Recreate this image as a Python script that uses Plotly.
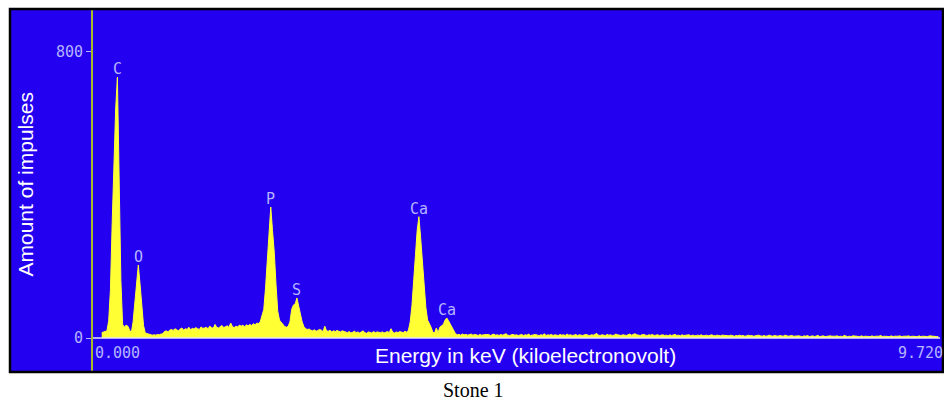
import plotly.graph_objects as go

# ---------------- data ----------------
CH_START = 0.10      # keV, first channel
CH_WIDTH = 0.02      # keV per channel
X_MAX = 9.72         # keV, full scale

COUNTS = [
    # 0.10 - 0.48
    15, 17, 18, 20, 48, 135, 320, 515, 640, 729, 430, 160, 38, 30, 36, 33, 22, 15, 45, 100,
    # 0.50 - 0.88
    165, 204, 150, 90, 35, 14, 12, 10, 9, 8, 9, 8, 10, 9, 11, 12, 18, 20, 17, 22,
    # 0.90 - 1.28
    24, 21, 26, 23, 20, 25, 28, 22, 26, 24, 30, 23, 27, 25, 29, 26, 24, 31, 27, 28,
    # 1.30 - 1.68
    30, 26, 33, 29, 27, 38, 30, 28, 32, 35, 29, 31, 34, 30, 42, 32, 29, 33, 31, 36,
    # 1.70 - 2.08
    33, 36, 31, 37, 34, 38, 35, 40, 37, 42, 40, 46, 60, 80, 140, 220, 290, 366, 300, 240,
    # 2.10 - 2.48
    150, 75, 50, 45, 38, 32, 30, 33, 45, 80, 92, 95, 112, 88, 65, 45, 32, 26, 24, 25,
    # 2.50 - 2.88
    22, 20, 23, 19, 21, 24, 22, 18, 33, 20, 19, 22, 17, 20, 18, 21, 19, 17, 20, 18,
    # 2.90 - 3.28
    17, 15, 18, 14, 16, 19, 15, 17, 14, 16, 20, 15, 13, 17, 16, 14, 18, 15, 17, 16,
    # 3.30 - 3.68
    15, 17, 14, 16, 18, 15, 26, 16, 14, 17, 15, 18, 16, 15, 19, 16, 22, 45, 90, 150,
    # 3.70 - 4.08
    230, 300, 339, 280, 220, 140, 85, 50, 42, 30, 16, 14, 28, 15, 30, 34, 38, 50, 56, 48,
    # 4.10 - 4.48
    40, 30, 20, 12, 9, 10, 8, 11, 9, 10, 8, 9, 11, 8, 10, 9, 7, 10, 8, 9,
    # 4.50 - 4.88
    9, 8, 10, 7, 9, 11, 8, 9, 7, 10, 8, 9, 12, 8, 7, 9, 10, 8, 9, 7,
    # 4.90 - 5.28
    8, 10, 7, 9, 8, 11, 7, 8, 9, 10, 8, 7, 9, 8, 12, 7, 9, 8, 10, 7,
    # 5.30 - 5.68
    9, 8, 7, 10, 8, 9, 7, 11, 8, 9, 7, 8, 10, 7, 9, 8, 7, 9, 10, 8,
    # 5.70 - 6.08
    7, 9, 8, 10, 13, 8, 7, 9, 8, 7, 10, 8, 9, 7, 8, 11, 9, 8, 7, 9,
    # 6.10 - 6.48
    8, 7, 9, 11, 8, 10, 12, 9, 8, 7, 9, 10, 8, 7, 9, 8, 10, 7, 8, 9,
    # 6.50 - 6.88
    7, 8, 9, 7, 8, 6, 9, 7, 8, 10, 7, 8, 6, 9, 7, 8, 7, 9, 6, 8,
    # 6.90 - 7.28
    7, 6, 8, 7, 9, 6, 7, 8, 6, 7, 9, 7, 6, 8, 7, 6, 8, 7, 6, 7,
    # 7.30 - 7.68
    6, 8, 7, 5, 7, 6, 8, 6, 7, 5, 6, 8, 6, 7, 5, 6, 7, 8, 6, 5,
    # 7.70 - 8.08
    7, 5, 6, 8, 6, 5, 7, 6, 5, 7, 6, 5, 8, 6, 5, 6, 7, 5, 6, 5,
    # 8.10 - 8.48
    6, 5, 4, 6, 5, 7, 4, 5, 6, 4, 5, 7, 4, 5, 6, 4, 5, 4, 6, 5,
    # 8.50 - 8.88
    4, 5, 6, 4, 5, 4, 7, 5, 4, 5, 4, 6, 5, 4, 5, 4, 6, 4, 5, 4,
    # 8.90 - 9.28
    5, 4, 6, 4, 5, 4, 5, 7, 4, 5, 4, 5, 4, 6, 4, 5, 4, 5, 6, 4,
    # 9.30 - 9.68
    5, 4, 5, 6, 4, 5, 4, 5, 4, 6, 4, 5, 4, 5, 4, 6, 5, 4, 5, 4,
    # 9.70
    4,
]
ENERGY = [round(CH_START + CH_WIDTH * i, 2) for i in range(len(COUNTS))]

PEAK_LABELS = ["C", "O", "P", "S", "Ca", "Ca"]
PEAK_ENERGY = [0.28, 0.52, 2.04, 2.34, 3.74, 4.06]
PEAK_COUNTS = [COUNTS[round((e - CH_START) / CH_WIDTH)] for e in PEAK_ENERGY]

Y_TICKS = [0, 800]
X_TICK_TEXT = ["0.000", "9.720"]
X_TITLE = "Energy in keV (kiloelectronovolt)"
Y_TITLE = "Amount of impulses"
CAPTION = "Stone 1"

# ---------------- styling / layout ----------------
W, H = 944, 404
ML, MR, MT, MB = 93, 4, 9, 32
PW, PH = W - ML - MR, H - MT - MB

BLUE = "#2400f0"
YELLOW = "#ffff33"
LAV = "#b4b4ff"
AXIS_GREEN = "#aabb2a"
MONO = "DejaVu Sans Mono"
SANS = "Liberation Sans, Arial, sans-serif"
SERIF = "Liberation Serif, Times New Roman, serif"

# vertical scale: 0 counts at pixel row 338, 800 counts at row 51.7
Y0_PX, Y800_PX = 338.0, 51.7
k = 800.0 / (Y0_PX - Y800_PX)
Y_RANGE = [-(MT + PH - Y0_PX) * k, 800 + (Y800_PX - MT) * k]


def paper(px=None, py=None):
    out = []
    if px is not None:
        out.append((px - ML) / PW)
    if py is not None:
        out.append((MT + PH - py) / PH)
    return out[0] if len(out) == 1 else tuple(out)


fig = go.Figure()
fig.add_trace(go.Scatter(
    x=ENERGY, y=COUNTS, mode="lines",
    line=dict(color=YELLOW, width=1),
    fill="tozeroy", fillcolor=YELLOW,
    hoverinfo="x+y", showlegend=False,
))

shapes = [
    dict(type="rect", xref="paper", yref="paper",
         x0=paper(px=10), x1=paper(px=943), y0=0, y1=1,
         fillcolor=BLUE, line=dict(width=0), layer="below"),
    dict(type="line", xref="paper", yref="y", x0=0, x1=1, y0=0, y1=0,
         line=dict(color="#e4e4ff", width=1.5), layer="above"),
    dict(type="rect", xref="paper", yref="paper",
         x0=paper(px=10), x1=paper(px=943), y0=paper(py=372), y1=paper(py=9),
         fillcolor="rgba(0,0,0,0)", line=dict(color="black", width=2.5), layer="above"),
]

annotations = []
for lab, e, c in zip(PEAK_LABELS, PEAK_ENERGY, PEAK_COUNTS):
    annotations.append(dict(x=e, y=c, xref="x", yref="y", text=lab, showarrow=False,
                            xanchor="center", yanchor="bottom", yshift=-3,
                            font=dict(family=MONO, size=15, color=LAV)))
annotations.append(dict(x=0, y=0, xref="x", yref="y", text=X_TICK_TEXT[0], showarrow=False,
                        xanchor="left", yanchor="middle", yshift=-15,
                        font=dict(family=MONO, size=15, color=LAV)))
annotations.append(dict(x=X_MAX, y=0, xref="x", yref="y", text=X_TICK_TEXT[1], showarrow=False,
                        xanchor="right", yanchor="middle", yshift=-15, xshift=5,
                        font=dict(family=MONO, size=15, color=LAV)))
xt = paper(525, 355)
annotations.append(dict(x=xt[0], y=xt[1], xref="paper", yref="paper", text=X_TITLE,
                        showarrow=False, xanchor="center", yanchor="middle",
                        font=dict(family=SANS, size=21, color="white")))
yt = paper(25, 184.5)
annotations.append(dict(x=yt[0], y=yt[1], xref="paper", yref="paper", text=Y_TITLE,
                        showarrow=False, xanchor="center", yanchor="middle", textangle=-90,
                        font=dict(family=SANS, size=21, color="white")))
cp = paper(473, 390)
annotations.append(dict(x=cp[0], y=cp[1], xref="paper", yref="paper", text=CAPTION,
                        showarrow=False, xanchor="center", yanchor="middle",
                        font=dict(family=SERIF, size=20, color="black")))

fig.update_layout(
    width=W, height=H,
    margin=dict(l=ML, r=MR, t=MT, b=MB, pad=0),
    paper_bgcolor="white", plot_bgcolor=BLUE,
    xaxis=dict(range=[0, X_MAX], showgrid=False, zeroline=False, showline=False,
               showticklabels=False, ticks=""),
    yaxis=dict(range=Y_RANGE, showgrid=False, zeroline=False,
               showline=True, linecolor=AXIS_GREEN, linewidth=2,
               tickvals=Y_TICKS, ticks="outside", ticklen=5, tickcolor=LAV, tickwidth=1,
               tickfont=dict(family=MONO, size=15, color=LAV)),
    shapes=shapes, annotations=annotations,
)

fig.write_html("out.html", config={"displayModeBar": False})

# remove the browser's default page margin so the figure sits at the window's top-left
with open("out.html", "r", encoding="utf-8") as f:
    html = f.read()
html = html.replace("<body>", '<body style="margin:0;padding:0;overflow:hidden">', 1)
with open("out.html", "w", encoding="utf-8") as f:
    f.write(html)
